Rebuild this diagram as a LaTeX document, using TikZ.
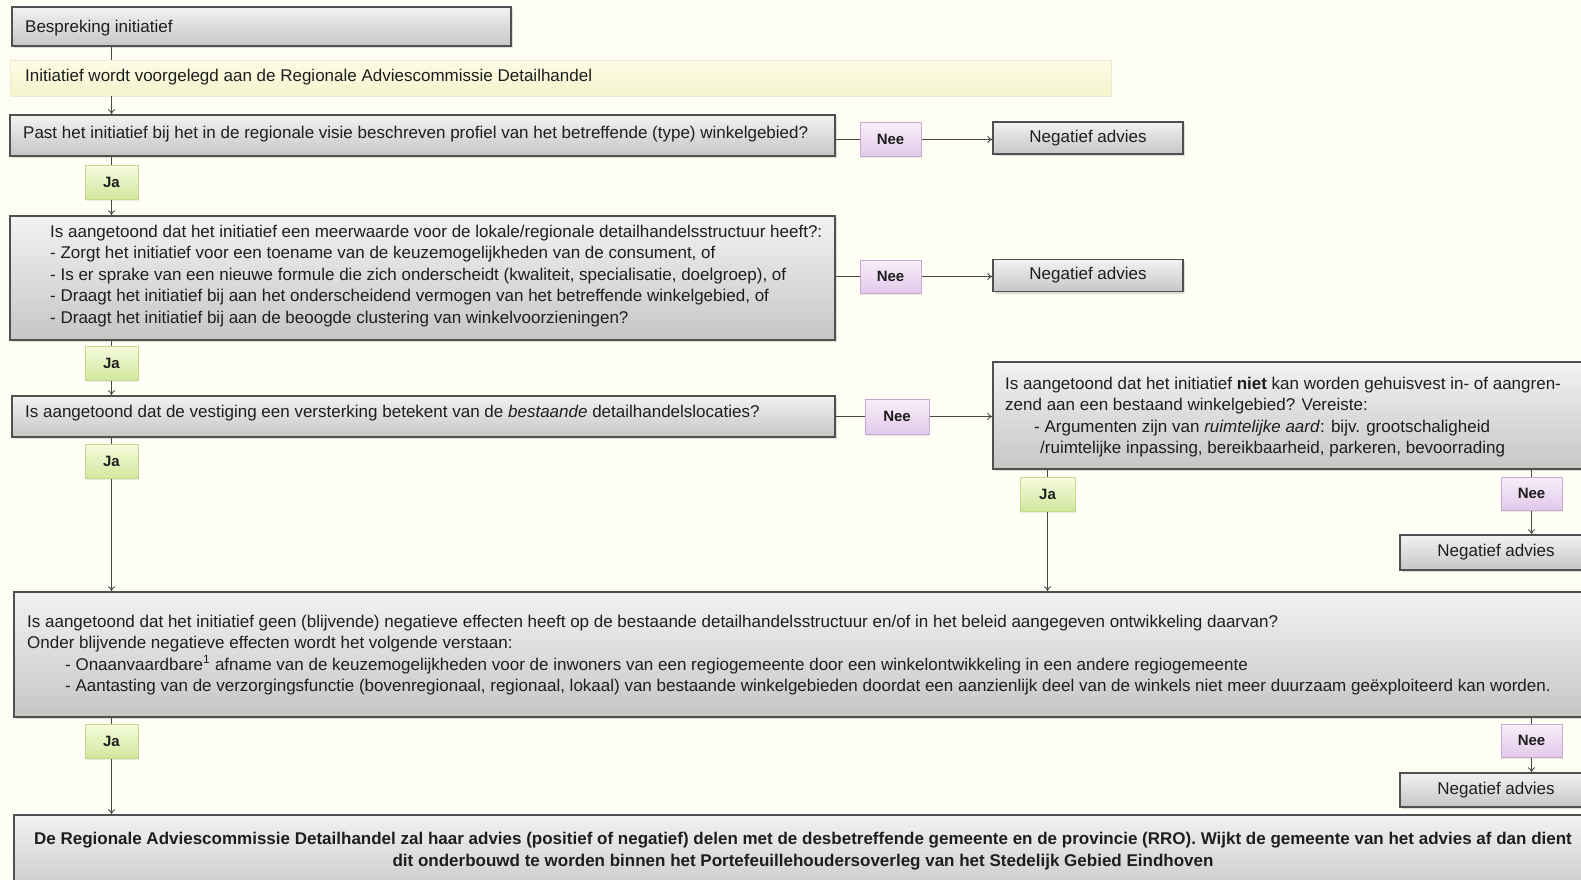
\documentclass[tikz,border=0pt]{standalone}
\usepackage{fontspec}
\setmainfont{Liberation Sans}
\usetikzlibrary{arrows.meta,shadows}
\definecolor{bg}{HTML}{FFFEF4}
\definecolor{edge}{HTML}{505050}
\definecolor{txtc}{HTML}{1E1E1E}
\definecolor{gtop}{HTML}{F2F2F0}
\definecolor{gbot}{HTML}{C6C6C4}
\definecolor{jtop}{HTML}{F6FBDF}
\definecolor{jbot}{HTML}{D2E79C}
\definecolor{jedge}{HTML}{C4D98E}
\definecolor{ntop}{HTML}{F9EEF9}
\definecolor{nbot}{HTML}{E2CAEA}
\definecolor{nedge}{HTML}{C6A8D6}
\definecolor{ytop}{HTML}{FCFCE6}
\definecolor{ybot}{HTML}{F4F4CC}
\definecolor{linec}{HTML}{4A4A4A}
\tikzset{
  every node/.style={font=\fontsize{17}{21.5}\selectfont, text=txtc},
  gbox/.style={draw=edge, line width=1.4pt, top color=gtop, bottom color=gbot, inner sep=0pt,
     drop shadow={opacity=0.25, shadow xshift=1.5pt, shadow yshift=-2pt}},
  ybox/.style={draw=ybot!80!gray!60, line width=0.4pt, top color=ytop, bottom color=ybot, inner sep=0pt},
  jabox/.style={draw=jedge, line width=1pt, top color=jtop, bottom color=jbot, inner sep=0pt,
     font=\fontsize{15}{18}\selectfont\bfseries,
     minimum width=53pt, minimum height=34pt, drop shadow={opacity=0.15, shadow xshift=1pt, shadow yshift=-1.5pt}},
  neebox/.style={draw=nedge, line width=1pt, top color=ntop, bottom color=nbot, inner sep=0pt,
     font=\fontsize{15}{18}\selectfont\bfseries,
     minimum width=61pt, minimum height=33pt, drop shadow={opacity=0.15, shadow xshift=1pt, shadow yshift=-1.5pt}},
  txt/.style={anchor=west, align=left, inner sep=0pt},
  conn/.style={draw=linec, line width=0.9pt},
  arr/.style={conn, -{To[length=5pt,width=7pt]}}
}
\begin{document}
\begin{tikzpicture}[x=1pt,y=-1pt]
\fill[bg] (0,0) rectangle (1581,880);
\useasboundingbox (0,0) rectangle (1581,880);

% boxes
\node[gbox, minimum width=499pt, minimum height=39pt] (besp) at (261.5,26.5) {};
\node[ybox, minimum width=1101pt, minimum height=36pt] (init) at (560.5,78) {};
\node[gbox, minimum width=825pt, minimum height=41pt] (past) at (422.5,135.5) {};
\node[gbox, minimum width=825pt, minimum height=124pt] (meer) at (422.5,278) {};
\node[gbox, minimum width=823pt, minimum height=41pt] (vest) at (423.5,416.5) {};
\node[gbox, minimum width=607pt, minimum height=107pt] (right) at (1296.5,415.5) {};
\node[gbox, minimum width=1578pt, minimum height=125pt] (effect) at (803,654.5) {};
\node[gbox, minimum width=1578pt, minimum height=85pt] (final) at (803,857.5) {};

\node[gbox, minimum width=190pt, minimum height=32pt] (neg1) at (1088,138) {Negatief advies};
\node[gbox, minimum width=190pt, minimum height=32pt] (neg2) at (1088,275.5) {Negatief advies};
\node[gbox, minimum width=192pt, minimum height=35pt] (neg4) at (1496,552.5) {Negatief advies};
\node[gbox, minimum width=192pt, minimum height=34pt] (neg5) at (1496,790) {Negatief advies};

\node[neebox] (nee1) at (890.5,139.5) {Nee};
\node[neebox] (nee2) at (890.5,276.5) {Nee};
\node[neebox, minimum width=64pt, minimum height=35pt] (nee3) at (897,416.5) {Nee};
\node[neebox] (nee4) at (1531.5,493.5) {Nee};
\node[neebox] (nee5) at (1531.5,740.5) {Nee};

\node[jabox] (ja1) at (111.5,182.5) {Ja};
\node[jabox] (ja2) at (111.5,363) {Ja};
\node[jabox] (ja3) at (111.5,461.5) {Ja};
\node[jabox, minimum width=55pt] (ja4) at (1047.5,494) {Ja};
\node[jabox] (ja5) at (111.5,741) {Ja};

% texts
\node[txt] (besp-t) at (25,28) {Bespreking initiatief};
\node[txt] (init-t) at (25,77) {Initiatief wordt voorgelegd aan de Regionale Adviescommissie Detailhandel};
\node[txt] (past-t) at (23,134) {Past het initiatief bij het in de regionale visie beschreven profiel van het betreffende (type) winkelgebied?};
\node[txt] (meer-t) at (50,276) {Is aangetoond dat het initiatief een meerwaarde voor de lokale/regionale detailhandelsstructuur heeft?:\\
- Zorgt het initiatief voor een toename van de keuzemogelijkheden van de consument, of\\
- Is er sprake van een nieuwe formule die zich onderscheidt (kwaliteit, specialisatie, doelgroep), of\\
- Draagt het initiatief bij aan het onderscheidend vermogen van het betreffende winkelgebied, of\\
- Draagt het initiatief bij aan de beoogde clustering van winkelvoorzieningen?};
\node[txt] (vest-t) at (25,413) {Is aangetoond dat de vestiging een versterking betekent van de \textit{bestaande} detailhandelslocaties?};
\node[txt] (right-t) at (1005,417) {Is aangetoond dat het initiatief \textbf{niet} kan worden gehuisvest in- of aangren-\\
zend aan een bestaand winkelgebied? Vereiste:\\
\hspace*{29pt}- Argumenten zijn van \textit{ruimtelijke aard}: bijv. grootschaligheid\\
\hspace*{35pt}/ruimtelijke inpassing, bereikbaarheid, parkeren, bevoorrading};
\node[txt] (effect-t) at (27,655) {Is aangetoond dat het initiatief geen (blijvende) negatieve effecten heeft op de bestaande detailhandelsstructuur en/of in het beleid aangegeven ontwikkeling daarvan?\\
Onder blijvende negatieve effecten wordt het volgende verstaan:\\
\hspace*{38pt}- Onaanvaardbare\textsuperscript{1} afname van de keuzemogelijkheden voor de inwoners van een regiogemeente door een winkelontwikkeling in een andere regiogemeente\\
\hspace*{38pt}- Aantasting van de verzorgingsfunctie (bovenregionaal, regionaal, lokaal) van bestaande winkelgebieden doordat een aanzienlijk deel van de winkels niet meer duurzaam geëxploiteerd kan worden.};
\node[align=center, inner sep=0pt, font=\fontsize{17}{21.5}\selectfont\bfseries] (final-t) at (803,851) {De Regionale Adviescommissie Detailhandel zal haar advies (positief of negatief) delen met de desbetreffende gemeente en de provincie (RRO). Wijkt de gemeente van het advies af dan dient\\
dit onderbouwd te worden binnen het Portefeuillehoudersoverleg van het Stedelijk Gebied Eindhoven};

% connectors
\draw[conn] (ja1 |- besp.south) -- (ja1 |- init.north);
\draw[arr] (ja1 |- init.south) -- (ja1 |- past.north);
\draw[conn] (nee1.west -| past.east) -- (nee1.west);
\draw[arr] (nee1.east) -- (nee1.east -| neg1.west);
\draw[conn] (ja1 |- past.south) -- (ja1.north);
\draw[arr] (ja1.south) -- (ja1 |- meer.north);
\draw[conn] (nee2.west -| meer.east) -- (nee2.west);
\draw[arr] (nee2.east) -- (nee2.east -| neg2.west);
\draw[conn] (ja2 |- meer.south) -- (ja2.north);
\draw[arr] (ja2.south) -- (ja2 |- vest.north);
\draw[conn] (nee3.west -| vest.east) -- (nee3.west);
\draw[arr] (nee3.east) -- (nee3.east -| right.west);
\draw[conn] (ja3 |- vest.south) -- (ja3.north);
\draw[arr] (ja3.south) -- (ja3 |- effect.north);
\draw[conn] (ja4 |- right.south) -- (ja4.north);
\draw[arr] (ja4.south) -- (ja4 |- effect.north);
\draw[conn] (nee4 |- right.south) -- (nee4.north);
\draw[arr] (nee4.south) -- (nee4 |- neg4.north);
\draw[conn] (ja5 |- effect.south) -- (ja5.north);
\draw[arr] (ja5.south) -- (ja5 |- final.north);
\draw[conn] (nee5 |- effect.south) -- (nee5.north);
\draw[arr] (nee5.south) -- (nee5 |- neg5.north);
\end{tikzpicture}
\end{document}
